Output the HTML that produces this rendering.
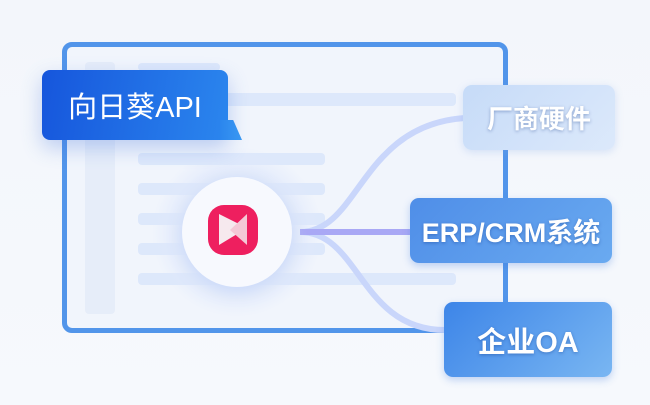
<!DOCTYPE html>
<html><head><meta charset="utf-8"><style>
body{margin:0;width:650px;height:405px;overflow:hidden;background:linear-gradient(180deg,#f3f6fb,#f6f9fd);font-family:"Liberation Sans","Noto Sans CJK SC",sans-serif;position:relative}
.a{position:absolute}
.frame{left:62px;top:42px;width:436px;height:281px;border:5px solid #5295ea;border-radius:10px;background:#f1f5fc}
.bar{background:#dde8fb;border-radius:4px}
.box{display:flex;align-items:center;justify-content:center;color:#fff;font-weight:bold;border-radius:9px;text-shadow:0 1px 3px rgba(0,40,120,.35)}
</style></head><body>
<div class="a frame"></div>
<div class="a bar" style="left:85px;top:62px;width:30px;height:252px;background:#e6edf9"></div>
<div class="a bar" style="left:138px;top:63px;width:82px;height:8px"></div>
<div class="a bar" style="left:138px;top:93px;width:318px;height:13px"></div>
<div class="a bar" style="left:138px;top:153px;width:187px;height:12px"></div>
<div class="a bar" style="left:138px;top:183px;width:187px;height:12px"></div>
<div class="a bar" style="left:138px;top:213px;width:187px;height:12px"></div>
<div class="a bar" style="left:138px;top:243px;width:187px;height:12px"></div>
<div class="a bar" style="left:138px;top:273px;width:318px;height:12px"></div>
<svg class="a" style="left:0;top:0" width="650" height="405">
<defs><radialGradient id="h"><stop offset="0.6" stop-color="#dfe8fb"/><stop offset="1" stop-color="#dfe8fb" stop-opacity="0"/></radialGradient></defs>
<circle cx="237" cy="232" r="85" fill="url(#h)"/>
<path d="M300 232 C360 232,360 125,465 118" stroke="#c9d6fb" stroke-width="6" fill="none"/>
<path d="M300 232 C360 232,360 330,445 330" stroke="#c9d6fb" stroke-width="6" fill="none"/>
<path d="M300 232 L410 232" stroke="#a9a8f5" stroke-width="6" fill="none"/>
<circle cx="237" cy="232" r="55" fill="#f7f9fe" filter="drop-shadow(0 4px 8px #c9d8f8)"/>
<rect x="208" y="205" width="50" height="50" rx="16" fill="#ee1f5f"/>
<path d="M219 214 L247 228 L219 245 Z" fill="#f6e9ee"/>
<path d="M247 214 L247 245 L230 230 Z" fill="#f4c8d6"/>
</svg>
<div class="a box" style="left:42px;top:70px;width:186px;height:70px;border-radius:8px 8px 4px 8px;background:linear-gradient(100deg,#1656dc,#2b86ee);font-weight:normal;font-size:29px;text-shadow:none;box-shadow:0 8px 20px rgba(60,110,220,.3)">向日葵API</div>
<div class="a" style="left:220px;top:120px;width:22px;height:20px;background:linear-gradient(90deg,#2b86ee,#3a98f2);clip-path:polygon(0 0,60% 0,100% 100%,0 100%)"></div>
<div class="a box" style="left:463px;top:85px;width:152px;height:65px;background:linear-gradient(135deg,#c6dbf8,#dce9fb);font-size:26px;box-shadow:0 2px 8px rgba(120,160,230,.25)">厂商硬件</div>
<div class="a box" style="left:410px;top:198px;width:202px;height:65px;background:linear-gradient(135deg,#4f8ee8,#6aaaf0);font-size:27px;box-shadow:0 3px 8px rgba(60,120,220,.3)">ERP/CRM系统</div>
<div class="a box" style="left:444px;top:302px;width:168px;height:75px;background:linear-gradient(135deg,#3d85e8,#79b6f2);font-size:29px;box-shadow:0 3px 8px rgba(60,120,220,.3)">企业OA</div>
</body></html>
